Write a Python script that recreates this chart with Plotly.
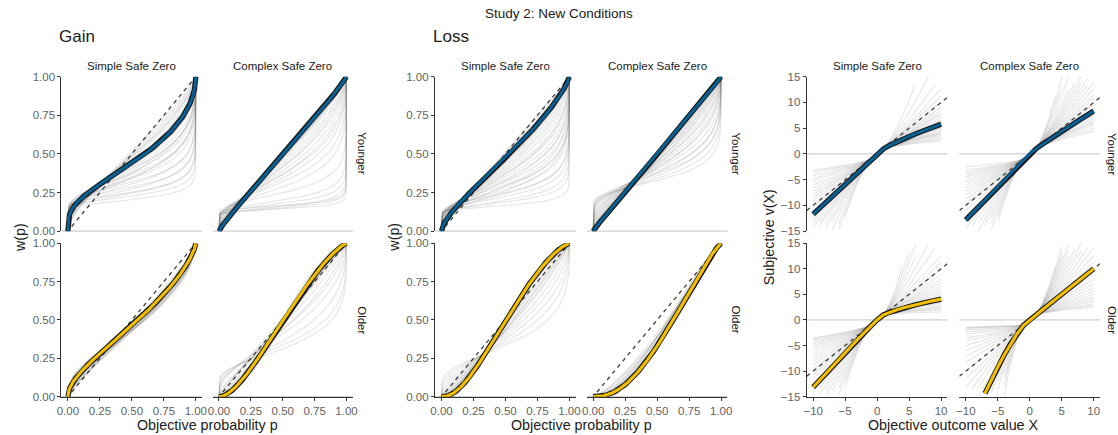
import numpy as np
import plotly.graph_objects as go

# ---------------------------------------------------------------
# Probability weighting (Prelec: w(p) = exp(-delta * (-ln p)^gamma))
# group means (delta, gamma) and individual-level parameters
# ---------------------------------------------------------------
gain_simple_younger_mean = (1.00, 0.54)
gain_simple_younger_delta = [1.65, 1.55, 1.50, 1.45, 1.40, 1.35, 1.30, 1.25, 1.20, 1.18, 1.12, 1.10, 1.08, 1.05, 1.04,
                             1.02, 1.00, 1.00, 0.98, 0.97, 0.95, 0.95, 0.93, 0.92, 0.90, 1.00, 1.05, 1.15, 1.22, 0.96]
gain_simple_younger_gamma = [0.10, 0.12, 0.16, 0.14, 0.20, 0.18, 0.24, 0.22, 0.28, 0.32, 0.30, 0.36, 0.40, 0.44, 0.38,
                             0.48, 0.50, 0.56, 0.60, 0.52, 0.65, 0.70, 0.75, 0.80, 0.85, 0.62, 0.55, 0.42, 0.35, 0.72]

gain_complex_younger_mean = (1.00, 0.93)
gain_complex_younger_delta = [2.00, 1.95, 1.90, 1.85, 1.80, 1.70, 1.50, 1.40, 1.30, 1.25, 1.20, 1.15, 1.10, 1.08,
                              1.05, 1.02, 1.00, 1.00, 0.98, 0.97, 0.95, 1.00, 1.02, 0.96, 1.03, 0.94, 1.12, 1.18]
gain_complex_younger_gamma = [0.06, 0.08, 0.10, 0.07, 0.12, 0.15, 0.20, 0.30, 0.35, 0.42, 0.50, 0.55, 0.60, 0.68,
                              0.72, 0.78, 0.82, 0.86, 0.90, 0.94, 0.98, 0.95, 0.92, 0.88, 0.85, 1.02, 0.65, 0.45]

gain_simple_older_mean = (1.00, 0.73)
gain_simple_older_delta = [1.00, 1.02, 1.05, 1.03, 1.00, 1.08, 1.06, 1.10, 1.04, 0.98, 1.07,
                           1.12, 1.00, 1.09, 1.02, 1.05, 1.15, 0.97, 1.06, 1.10, 1.04, 1.08]
gain_simple_older_gamma = [0.60, 0.65, 0.70, 0.75, 0.68, 0.72, 0.78, 0.80, 0.82, 0.62, 0.66,
                           0.75, 0.72, 0.85, 0.70, 0.60, 0.78, 0.70, 0.74, 0.68, 0.88, 0.64]

gain_complex_older_mean = (1.12, 1.27)
gain_complex_older_delta = [1.30, 1.25, 1.20, 1.10, 1.05, 1.10, 1.05, 1.15, 1.20, 1.10, 1.18, 1.12, 1.22,
                            1.08, 1.16, 1.25, 1.10, 1.14, 1.20, 1.05, 1.13, 1.00, 0.95, 1.02, 1.08]
gain_complex_older_gamma = [0.30, 0.35, 0.45, 0.55, 0.65, 0.75, 0.85, 1.20, 1.30, 1.25, 1.35, 1.15, 1.22,
                            1.30, 1.40, 1.30, 1.10, 1.28, 1.18, 1.20, 1.45, 1.10, 1.00, 0.95, 1.05]

loss_simple_younger_mean = (1.00, 0.80)
loss_simple_younger_delta = [1.85, 1.75, 1.70, 1.60, 1.55, 1.50, 1.45, 1.40, 1.35, 1.30, 1.25, 1.22, 1.18, 1.15, 1.12, 1.10,
                             1.08, 1.05, 1.03, 1.00, 0.98, 0.96, 0.95, 0.94, 1.00, 1.02, 1.06, 1.20, 1.30, 1.40, 1.50]
loss_simple_younger_gamma = [0.08, 0.12, 0.15, 0.18, 0.22, 0.20, 0.26, 0.30, 0.28, 0.34, 0.38, 0.42, 0.46, 0.50, 0.55, 0.60,
                             0.64, 0.68, 0.72, 0.76, 0.80, 0.85, 0.90, 0.95, 0.88, 0.84, 0.75, 0.50, 0.40, 0.35, 0.30]

loss_complex_younger_mean = (1.00, 0.97)
loss_complex_younger_delta = [1.20, 1.18, 1.15, 1.10, 1.08, 1.06, 1.05, 1.04, 1.03, 1.02, 1.02, 1.01, 1.00,
                              1.00, 1.00, 0.99, 1.00, 1.01, 1.02, 1.03, 1.05, 1.06, 1.08, 1.12, 1.00, 0.98]
loss_complex_younger_gamma = [0.20, 0.25, 0.30, 0.28, 0.34, 0.40, 0.46, 0.52, 0.58, 0.64, 0.70, 0.76, 0.82,
                              0.88, 0.92, 0.96, 1.00, 0.94, 0.86, 0.80, 0.74, 0.62, 0.50, 0.36, 0.90, 0.98]

loss_simple_older_mean = (1.16, 1.36)
loss_simple_older_delta = [1.25, 1.22, 1.20, 1.18, 1.17, 1.16, 1.15, 1.15, 1.16, 1.15, 1.16,
                           1.17, 1.15, 1.14, 1.18, 1.12, 1.20, 1.10, 1.13, 1.20, 1.18, 1.14]
loss_simple_older_gamma = [0.35, 0.45, 0.55, 0.65, 0.75, 0.85, 0.95, 1.05, 1.15, 1.25, 1.30,
                           1.35, 1.40, 1.32, 1.28, 1.38, 1.42, 1.20, 1.10, 1.00, 0.90, 1.45]

loss_complex_older_mean = (1.72, 1.20)
loss_complex_older_delta = [1.60, 1.50, 1.40, 1.65, 1.70, 1.55, 1.45, 1.75, 1.62, 1.35, 1.68, 1.50, 1.58, 1.42, 1.30, 1.66]
loss_complex_older_gamma = [1.15, 1.10, 1.05, 1.25, 1.18, 1.20, 1.15, 1.22, 1.10, 1.00, 1.30, 1.25, 1.05, 1.12, 1.05, 1.16]

# ---------------------------------------------------------------
# Value function: v(x) = x^alpha (x >= 0), -lambda * (-x)^beta (x < 0)
# group means (alpha, lambda, beta); individuals use lambda = 1
# ---------------------------------------------------------------
value_simple_younger_mean = (0.76, 1.17, 1.00)
value_simple_younger_alpha = [0.40, 0.45, 0.50, 0.55, 0.58, 0.60, 0.62, 0.65, 0.68, 0.70, 0.72, 0.74, 0.76, 0.78,
                              0.80, 0.82, 0.85, 0.88, 0.90, 0.93, 0.96, 1.00, 1.05, 1.10, 1.18, 1.30, 1.45]
value_simple_younger_beta = [0.50, 0.55, 0.62, 0.68, 0.72, 0.78, 0.82, 0.86, 0.90, 0.93, 0.96, 1.00, 1.02, 1.05,
                             1.08, 1.10, 1.12, 1.15, 1.18, 1.20, 1.24, 1.28, 1.32, 1.38, 1.45, 1.50, 1.55]

value_complex_younger_mean = (0.92, 1.28, 1.00)
value_complex_younger_alpha = [0.65, 0.70, 0.75, 0.78, 0.80, 0.83, 0.86, 0.88, 0.90, 0.92, 0.95, 0.98, 1.00, 1.03,
                               1.06, 1.10, 1.14, 1.18, 1.22, 1.26, 1.30, 1.35, 1.40, 1.50, 1.60, 1.68, 1.75]
value_complex_younger_beta = [0.40, 0.50, 0.55, 0.60, 0.65, 0.70, 0.74, 0.78, 0.82, 0.86, 0.90, 0.94, 0.98, 1.00,
                              1.04, 1.08, 1.12, 1.16, 1.20, 1.25, 1.30, 1.35, 1.40, 1.45, 1.50, 1.55, 1.60]

value_simple_older_mean = (0.61, 1.20, 1.04)
value_simple_older_alpha = [0.20, 0.30, 0.35, 0.40, 0.45, 0.50, 0.53, 0.56, 0.60, 0.63, 0.66, 0.70, 0.74, 0.78,
                            0.82, 0.86, 0.90, 0.95, 1.00, 1.05, 1.10, 1.20, 1.30, 1.40, 1.50, 1.60, 1.70]
value_simple_older_beta = [0.55, 0.58, 0.62, 0.66, 0.70, 0.74, 0.78, 0.82, 0.86, 0.90, 0.94, 0.98, 1.00, 1.03,
                           1.06, 1.10, 1.14, 1.18, 1.22, 1.26, 1.30, 1.35, 1.40, 1.45, 1.50, 1.55, 1.60]

value_complex_older_mean = (1.00, 1.10, 1.32)
value_complex_older_alpha = [0.40, 0.45, 0.50, 0.55, 0.60, 0.65, 0.70, 0.75, 0.80, 0.85, 0.90, 0.95, 1.00, 1.05,
                             1.10, 1.15, 1.20, 1.25, 1.30, 1.35, 1.40, 1.45, 1.50, 1.55, 1.60, 1.65, 1.70]
value_complex_older_beta = [0.15, 0.18, 0.22, 0.30, 0.38, 0.45, 0.55, 0.62, 0.70, 0.78, 0.85, 0.92, 1.00, 1.06,
                            1.12, 1.18, 1.24, 1.30, 1.36, 1.42, 1.48, 1.55, 1.62, 1.70, 1.78, 1.85, 1.95]

column_labels = ["Simple Safe Zero", "Complex Safe Zero"]
row_labels = ["Younger", "Older"]
prob_ticks = [0, 0.25, 0.5, 0.75, 1]
prob_ticktext = ["0.00", "0.25", "0.50", "0.75", "1.00"]
value_xticks = [-10, -5, 0, 5, 10]
value_xticktext = ["\u221210", "\u22125", "0", "5", "10"]
value_yticks = [-15, -10, -5, 0, 5, 10, 15]
value_yticktext = ["\u221215", "\u221210", "\u22125", "0", "5", "10", "15"]

# ---------------------------------------------------------------
W, H = 1118, 435
# drawing area as it ends up on the page (top offset / usable height)
TOP, USABLE_H = 8.0, 419.0
COLS = [(57, 199), (209.5, 351), (434, 576), (587, 729), (809, 951), (963, 1105)]
ROWS = [(78, 231), (243, 395)]
ROW_COLOR = ["#0b5f91", "#f2bf00"]
GRAY = "rgba(115,115,115,0.19)"
TEXT = "#1a1a1a"
TICK = "#626262"
AXIS = "#333333"
FONT = "Liberation Sans, Arial, sans-serif"


def px(x):
    return x / W


def py(y):
    return 1 - (y - TOP) / USABLE_H


P = np.linspace(0, 1, 401)
X = np.arange(-10, 11)


def prelec(d, g):
    w = np.zeros_like(P)
    m = P > 0
    w[m] = np.exp(-d * (-np.log(P[m])) ** g)
    return w


def value(a, lam, b):
    v = np.where(X >= 0, np.abs(X) ** a, -lam * np.abs(X) ** b).astype(float)
    v[(v < -15) | (v > 15)] = np.nan
    return v


prob_panels = [
    (0, 0, gain_simple_younger_mean, gain_simple_younger_delta, gain_simple_younger_gamma),
    (0, 1, gain_complex_younger_mean, gain_complex_younger_delta, gain_complex_younger_gamma),
    (1, 0, gain_simple_older_mean, gain_simple_older_delta, gain_simple_older_gamma),
    (1, 1, gain_complex_older_mean, gain_complex_older_delta, gain_complex_older_gamma),
    (0, 2, loss_simple_younger_mean, loss_simple_younger_delta, loss_simple_younger_gamma),
    (0, 3, loss_complex_younger_mean, loss_complex_younger_delta, loss_complex_younger_gamma),
    (1, 2, loss_simple_older_mean, loss_simple_older_delta, loss_simple_older_gamma),
    (1, 3, loss_complex_older_mean, loss_complex_older_delta, loss_complex_older_gamma),
]
value_panels = [
    (0, 4, value_simple_younger_mean, value_simple_younger_alpha, value_simple_younger_beta),
    (0, 5, value_complex_younger_mean, value_complex_younger_alpha, value_complex_younger_beta),
    (1, 4, value_simple_older_mean, value_simple_older_alpha, value_simple_older_beta),
    (1, 5, value_complex_older_mean, value_complex_older_alpha, value_complex_older_beta),
]

fig = go.Figure()
layout = {}
shapes = []


def axis_ids(row, col):
    k = row * 6 + col + 1
    s = "" if k == 1 else str(k)
    return k, "x" + s, "y" + s


def setup_axes(row, col, kind):
    k, xa, ya = axis_ids(row, col)
    left_col = col in (0, 2, 4)
    bottom = row == 1
    if kind == "p":
        xr, yr = [-0.05, 1.05], [0, 1]
        xt, xtt, yt, ytt = prob_ticks, prob_ticktext, prob_ticks, prob_ticktext
    else:
        xr, yr = [-11, 11], [-15, 15]
        xt, xtt, yt, ytt = value_xticks, value_xticktext, value_yticks, value_yticktext
    x0, x1 = COLS[col]
    y0, y1 = ROWS[row]
    layout["xaxis" + xa[1:]] = dict(
        domain=[px(x0), px(x1)], range=xr, anchor=ya, showgrid=False, zeroline=False,
        showline=bottom, linecolor=AXIS, linewidth=1.3,
        ticks="outside" if bottom else "", ticklen=3, tickcolor=AXIS, tickwidth=1.1,
        showticklabels=bottom, tickvals=xt, ticktext=xtt,
        tickfont=dict(family=FONT, size=11.5, color=TICK), fixedrange=True)
    layout["yaxis" + ya[1:]] = dict(
        domain=[py(y1), py(y0)], range=yr, anchor=xa, showgrid=False, zeroline=False,
        showline=left_col, linecolor=AXIS, linewidth=1.3,
        ticks="outside" if left_col else "", ticklen=3, tickcolor=AXIS, tickwidth=1.1,
        showticklabels=left_col, tickvals=yt, ticktext=ytt,
        tickfont=dict(family=FONT, size=11.5, color=TICK), fixedrange=True)
    # horizontal reference line at zero
    yz = y1 if kind == "p" else (y0 + y1) / 2
    shapes.append(dict(type="line", xref="paper", yref="paper", x0=px(x0), x1=px(x1),
                       y0=py(yz), y1=py(yz), line=dict(color="#cfcfcf", width=1.3), layer="below"))
    return xa, ya


def add_line(xa, ya, x, y, color, width, dash=None):
    fig.add_trace(go.Scatter(x=x, y=y, xaxis=xa, yaxis=ya, mode="lines", hoverinfo="skip",
                             line=dict(color=color, width=width, dash=dash), showlegend=False))


for row, col, mean, ds, gs in prob_panels:
    xa, ya = setup_axes(row, col, "p")
    for d, g in zip(ds, gs):
        add_line(xa, ya, P, prelec(d, g), GRAY, 1.1)
    add_line(xa, ya, [-0.05, 1.05], [-0.05, 1.05], "#3c3c3c", 1.3, "4px,4px")
    w = prelec(*mean)
    add_line(xa, ya, P, w, "#111111", 5.2)
    add_line(xa, ya, P, w, ROW_COLOR[row], 3.2)

for row, col, mean, als, bes in value_panels:
    xa, ya = setup_axes(row, col, "v")
    for a, b in zip(als, bes):
        add_line(xa, ya, X, value(a, 1.0, b), GRAY, 1.1)
    add_line(xa, ya, [-11, 11], [-11, 11], "#3c3c3c", 1.3, "4px,4px")
    v = value(*mean)
    add_line(xa, ya, X, v, "#111111", 5.2)
    add_line(xa, ya, X, v, ROW_COLOR[row], 3.2)

# ---------------------------------------------------------------
# Text: titles, strip labels, axis titles
# ---------------------------------------------------------------
ann = []


def text(x, y, s, size, color=TEXT, angle=0, xanchor="center"):
    ann.append(dict(x=px(x), y=py(y), xref="paper", yref="paper", text=s, showarrow=False,
                    textangle=angle, xanchor=xanchor, yanchor="middle",
                    font=dict(family=FONT, size=size, color=color)))


text(559, 15, "Study 2: New Conditions", 13.5)
text(52, 38, "Gain", 17, xanchor="left")
text(430, 38, "Loss", 17, xanchor="left")

for col in range(6):
    x0, x1 = COLS[col]
    text((x0 + x1) / 2, 67, column_labels[col % 2], 11.5)

for gx in (360, 738, 1117):
    for r, (y0, y1) in enumerate(ROWS):
        text(gx, (y0 + y1) / 2, row_labels[r], 11.5, angle=90)

text(15, 237, "w(p)", 14.3, angle=-90)
text(393, 237, "w(p)", 14.3, angle=-90)
text(771, 237, "Subjective v(X)", 14.3, angle=-90)
text((COLS[0][0] + COLS[1][1]) / 2, 423, "Objective probability p", 14.3)
text((COLS[2][0] + COLS[3][1]) / 2, 423, "Objective probability p", 14.3)
text((COLS[4][0] + COLS[5][1]) / 2, 423, "Objective outcome value X", 14.3)

fig.update_layout(
    width=W, height=H, margin=dict(l=0, r=0, t=0, b=0),
    paper_bgcolor="white", plot_bgcolor="rgba(0,0,0,0)",
    annotations=ann, shapes=shapes, showlegend=False,
    font=dict(family=FONT), **layout)

fig.write_html("out.html")
